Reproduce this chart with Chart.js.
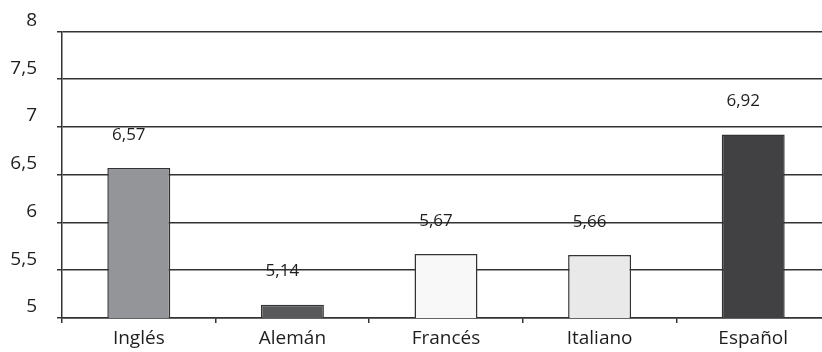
<!DOCTYPE html>
<html lang="es">
<head>
<meta charset="UTF-8">
<title>Puntuación media por idioma</title>
<script src="https://cdn.jsdelivr.net/npm/chart.js"></script>
<style>
	body {padding: 0; margin: 0; overflow: hidden; background: #fff;}
	#chartContainer { width: 830px; height: 352px; }
</style>
</head>
<body>

<div id="chartContainer">
    <canvas id="myChart"></canvas>
</div>

<script>
    // Datos del gráfico
    var idiomas = ['Inglés', 'Alemán', 'Francés', 'Italiano', 'Español'];
    var puntuaciones = [6.57, 5.14, 5.67, 5.66, 6.92];
    var rellenos = ['#939598', '#58595b', '#f8f8f8', '#e9e9ea', '#414042'];

    var fuente = "'Open Sans', 'DejaVu Sans', sans-serif";
    var conComa = function(v, dec) {
        return (dec === undefined ? String(v) : v.toFixed(dec)).replace('.', ',');
    };

    // Etiqueta de valor encima de cada barra
    var etiquetasValor = {
        id: 'etiquetasValor',
        afterDatasetsDraw: function(chart) {
            var ctx = chart.ctx;
            var meta = chart.getDatasetMeta(0);
            ctx.save();
            ctx.font = '17px ' + fuente;
            ctx.fillStyle = '#1e1e1e';
            ctx.textAlign = 'center';
            ctx.textBaseline = 'middle';
            meta.data.forEach(function(bar, i) {
                ctx.fillText(conComa(puntuaciones[i], 2), bar.x - 10, bar.y - 33);
            });
            ctx.restore();
        }
    };

    var chartCtx = document.getElementById('myChart').getContext('2d');
    var myChart = new Chart(chartCtx, {
        type: 'bar',
        data: {
            labels: idiomas,
            datasets: [{
                data: puntuaciones,
                backgroundColor: rellenos,
                borderColor: '#333',
                borderWidth: 1.5,
                borderSkipped: false,
                categoryPercentage: 1,
                barPercentage: 0.41
            }]
        },
        options: {
            responsive: true,
            maintainAspectRatio: false,
            animation: false,
            layout: { padding: { top: 28, right: 0, bottom: 0, left: 0 } },
            plugins: {
                legend: { display: false },
                tooltip: { enabled: false }
            },
            scales: {
                x: {
                    grid: {
                        drawOnChartArea: false,
                        drawTicks: true,
                        tickLength: 5,
                        color: '#333',
                        lineWidth: 1.5
                    },
                    border: { display: true, color: '#333', width: 1.5 },
                    ticks: {
                        color: '#1e1e1e',
                        padding: 4,
                        font: { family: fuente, size: 19 }
                    },
                    afterFit: function(s) { s.height = 34; }
                },
                y: {
                    min: 5,
                    max: 8,
                    grid: {
                        color: '#333',
                        lineWidth: 1.5,
                        tickLength: 5
                    },
                    border: { display: true, color: '#333', width: 1.5 },
                    ticks: {
                        stepSize: 0.5,
                        color: '#1e1e1e',
                        padding: 20,
                        labelOffset: -11,
                        font: { family: fuente, size: 19 },
                        callback: function(v) { return conComa(v); }
                    },
                    afterFit: function(s) { s.width = 62; }
                }
            }
        },
        plugins: [etiquetasValor]
    });
</script>

</body>
</html>
